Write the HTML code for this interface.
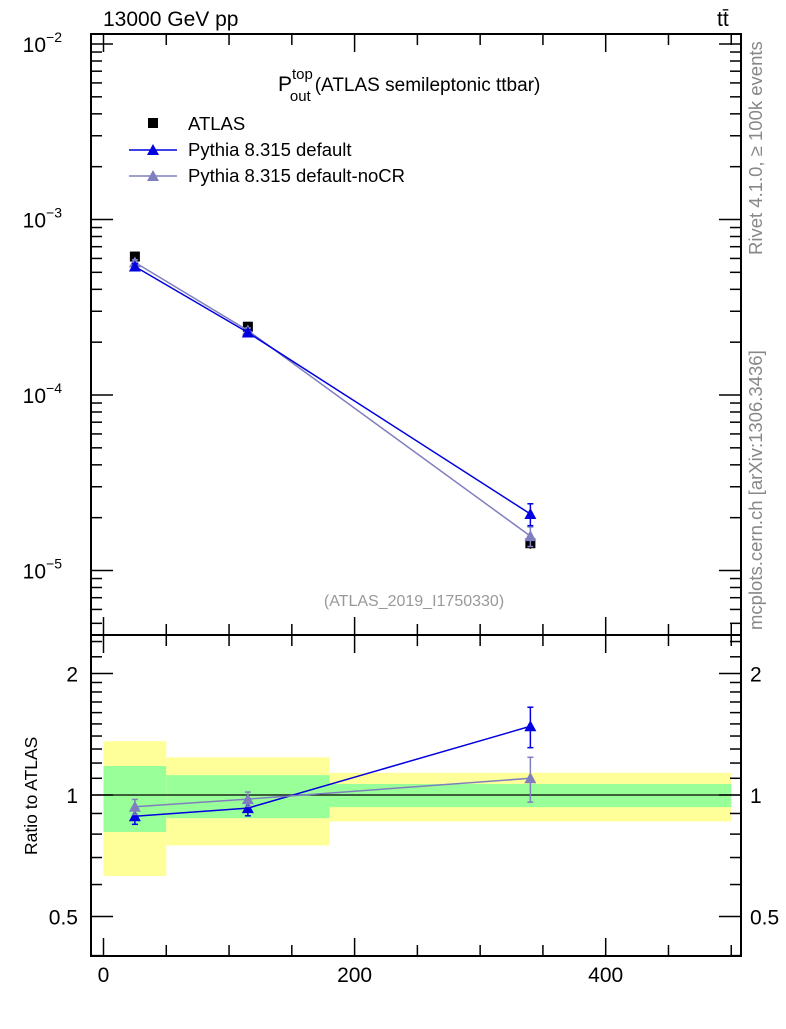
<!DOCTYPE html>
<html><head><meta charset="utf-8"><style>
body{margin:0;background:#fff}
svg text{font-family:"Liberation Sans",sans-serif}
</style></head><body>
<svg id="c" width="786" height="1024" xmlns="http://www.w3.org/2000/svg"></svg>
<script>
const binEdges=[0,50,180,500];
const xCenters=[25,115,340];
const atlas=[6.15e-4,2.45e-4,1.43e-5];
const atlasErr=[0.3e-4,0.1e-4,0.1e-5];
const pyDef=[5.4e-4,2.27e-4,2.1e-5];
const pyDefErr=[0.2e-4,0.08e-4,0.3e-5];
const pyNoCR=[5.7e-4,2.33e-4,1.57e-5];
const pyNoCRErr=[0.2e-4,0.08e-4,0.2e-5];
const ratioDef=[0.886,0.928,1.48];
const ratioDefErr=[0.04,0.04,0.17];
const ratioNoCR=[0.935,0.977,1.1];
const ratioNoCRErr=[0.04,0.04,0.14];
const band1Lo=[0.63,0.75,0.86];
const band1Hi=[1.36,1.24,1.135];
const band2Lo=[0.81,0.876,0.933];
const band2Hi=[1.18,1.12,1.065];
const xTicks=[0,200,400];
const yTicks=[-2,-3,-4,-5];
const rTicks=[0.5,1,2];

const S=document.getElementById('c'),NS='http://www.w3.org/2000/svg';
function el(t,a,txt,p){const e=document.createElementNS(NS,t);for(const k in a)e.setAttribute(k,a[k]);if(txt!=null)e.textContent=txt;(p||S).appendChild(e);return e;}
const L=91,R=741,T=34,M=635,B=956;
const X=v=>103.5+v*1.2555;
const Y=v=>44+(-2-Math.log10(v))*175.5;
const RY=v=>795-Math.log2(v)*121.5;

for(let i=0;i<3;i++){
 let r=el('rect',{x:X(binEdges[i]),y:RY(band1Hi[i]),width:X(binEdges[i+1])-X(binEdges[i]),height:RY(band1Lo[i])-RY(band1Hi[i]),fill:'#ffff99'});
 
 r=el('rect',{x:X(binEdges[i]),y:RY(band2Hi[i]),width:X(binEdges[i+1])-X(binEdges[i]),height:RY(band2Lo[i])-RY(band2Hi[i]),fill:'#99ff99'});
 
}
el('line',{x1:L,x2:R,y1:RY(1),y2:RY(1),stroke:'#000','stroke-width':1.2});

el('rect',{x:L,y:T,width:R-L,height:M-T,fill:'none',stroke:'#000','stroke-width':2});
el('rect',{x:L,y:M,width:R-L,height:B-M,fill:'none',stroke:'#000','stroke-width':2});

for(let v=0;v<=500;v+=50){const maj=v%200==0;const x=X(v);
 for(const [y0,d] of [[T,1],[M,-1],[M,1],[B,-1]]) el('line',{x1:x,x2:x,y1:y0,y2:y0+d*(maj?18:11),stroke:'#000','stroke-width':1.5});}
xTicks.forEach(v=>{const t=el('text',{x:X(v),y:982,'text-anchor':'middle','font-size':21},String(v));});

for(let d=-6;d<=-2;d++)for(let m=1;m<10;m++){const v=m*Math.pow(10,d);const y=Y(v);if(y<T||y>M)continue;const len=m==1?22:11;
 el('line',{x1:L,x2:L+len,y1:y,y2:y,stroke:'#000','stroke-width':1.5});el('line',{x1:R,x2:R-len,y1:y,y2:y,stroke:'#000','stroke-width':1.5});}
yTicks.forEach(d=>{const y=Y(Math.pow(10,d));const g=el('text',{x:62,y:y+8,'text-anchor':'end','font-size':21},'10');el('tspan',{dy:-10,'font-size':14},String(d).replace('-','−'),g);});

[0.4,0.5,0.6,0.7,0.8,0.9,1,1.1,1.2,1.3,1.4,1.5,1.6,1.7,1.8,1.9,2,2.2,2.4].forEach(v=>{const y=RY(v);if(y<M||y>B)return;const len=(v==0.5||v==1||v==2)?22:11;
 el('line',{x1:L,x2:L+len,y1:y,y2:y,stroke:'#000','stroke-width':1.5});el('line',{x1:R,x2:R-len,y1:y,y2:y,stroke:'#000','stroke-width':1.5});});
rTicks.forEach(v=>{let t=el('text',{x:78,y:RY(v)+8,'text-anchor':'end','font-size':21},String(v));
 t=el('text',{x:750,y:RY(v)+8,'font-size':21},String(v));});

function series(vals,errs,yf,col,name){
 const pts=xCenters.map((x,i)=>X(x)+','+yf(vals[i])).join(' ');
 const pl=el('polyline',{points:pts,fill:'none',stroke:col,'stroke-width':1.5});
 xCenters.forEach((x,i)=>{const cx=X(x),y1=yf(vals[i]+errs[i]),y2=yf(vals[i]-errs[i]);
  el('line',{x1:cx,x2:cx,y1:y1,y2:y2,stroke:col,'stroke-width':1.5});
  el('line',{x1:cx-3,x2:cx+3,y1:y1,y2:y1,stroke:col,'stroke-width':1.5});el('line',{x1:cx-3,x2:cx+3,y1:y2,y2:y2,stroke:col,'stroke-width':1.5});
  const cy=yf(vals[i]);const p=el('polygon',{points:`${cx},${cy-6} ${cx-6},${cy+5} ${cx+6},${cy+5}`,fill:col});});
}
xCenters.forEach((x,i)=>{const cx=X(x),cy=Y(atlas[i]);el('line',{x1:cx,x2:cx,y1:Y(atlas[i]+atlasErr[i]),y2:Y(atlas[i]-atlasErr[i]),stroke:'#000','stroke-width':1.5});
 const r=el('rect',{x:cx-5,y:cy-5,width:10,height:10,fill:'#000'});});
series(pyNoCR,pyNoCRErr,Y,'#7f7fbf','noCR');
series(pyDef,pyDefErr,Y,'#0000e0','default');
series(ratioDef,ratioDefErr,RY,'#0000e0','ratio-default');
series(ratioNoCR,ratioNoCRErr,RY,'#7f7fbf','ratio-noCR');

let r=el('rect',{x:148,y:118,width:10,height:10,fill:'#000'});
const la=el('text',{x:188,y:130,'font-size':18.5},'ATLAS');
[['#0000e0','Pythia 8.315 default',150],['#7f7fbf','Pythia 8.315 default-noCR',176]].forEach(([c,t,y])=>{
 el('line',{x1:129,x2:177,y1:y,y2:y,stroke:c,'stroke-width':1.5});el('polygon',{points:`153,${y-6} 147,${y+5} 159,${y+5}`,fill:c});
 const tx=el('text',{x:188,y:y+6,'font-size':18.5},t);});
</script>
<div style="position:absolute;left:0;top:0;width:786px;height:1024px;pointer-events:none">
<svg width="786" height="1024" xmlns="http://www.w3.org/2000/svg">
<text x="103" y="26" font-size="21" font-family="Liberation Sans">13000 GeV pp</text>
<text x="717" y="26" font-size="21" font-family="Liberation Sans">tt̄</text>
<text x="278" y="91" font-size="21" font-family="Liberation Sans">P<tspan font-size="15" dy="-12">top</tspan><tspan font-size="15" dx="-23" dy="22">out</tspan><tspan dy="-10" dx="4" font-size="19">(ATLAS semileptonic ttbar)</tspan></text>
<text x="414" y="606" font-size="16" fill="#999" text-anchor="middle" font-family="Liberation Sans">(ATLAS_2019_I1750330)</text>
<text transform="translate(762,255) rotate(-90)" font-size="18.5" fill="#888" font-family="Liberation Sans">Rivet 4.1.0, ≥ 100k events</text>
<text transform="translate(762,630) rotate(-90)" font-size="18.5" fill="#888" font-family="Liberation Sans">mcplots.cern.ch [arXiv:1306.3436]</text>
<text transform="translate(37,855) rotate(-90)" font-size="17.5" font-family="Liberation Sans">Ratio to ATLAS</text>
</svg></div>
</body></html>
